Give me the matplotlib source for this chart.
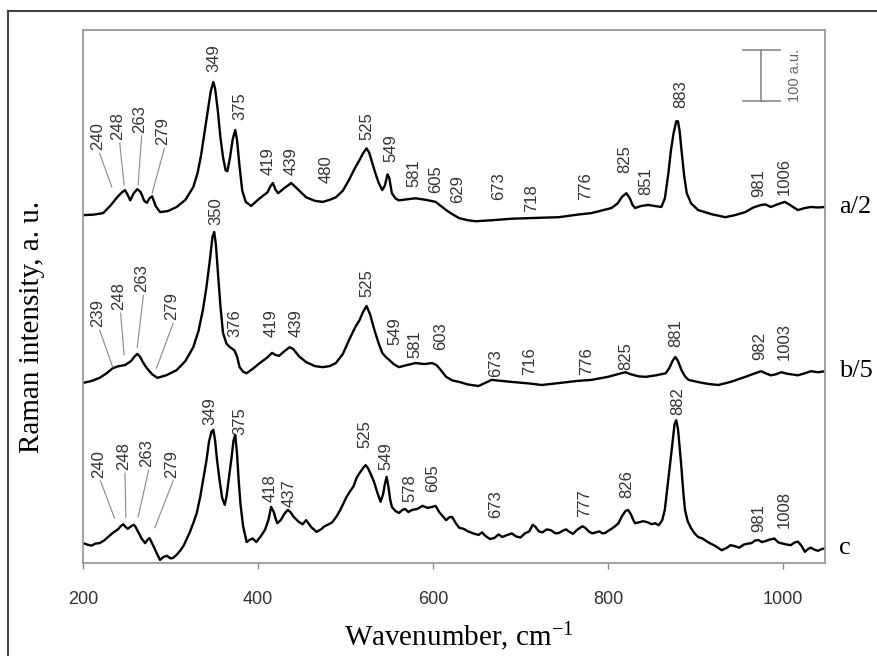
import matplotlib
matplotlib.use("Agg")
import matplotlib.pyplot as plt
from matplotlib.lines import Line2D

plt.rcParams['font.family'] = ['Liberation Sans', 'DejaVu Sans']
plt.rcParams['mathtext.fontset'] = 'custom'
plt.rcParams['mathtext.rm'] = 'Liberation Serif'
plt.rcParams['mathtext.default'] = 'regular'

# spectra: (wavenumber cm-1, intensity a.u. incl. offset)
spec_a = [(200, 682), (212, 683), (223, 686), (231, 700), (239, 717), (244, 726),
          (248, 731), (251, 722), (254, 711), (258, 725), (262, 733), (266, 727),
          (270, 710), (273, 706), (276, 715), (279, 719), (283, 700), (288, 688),
          (297, 690), (307, 698), (317, 712), (326, 737), (331, 765), (335, 800),
          (339, 845), (343, 890), (346, 925), (349, 943), (351, 930), (354, 888),
          (357, 835), (360, 796), (363, 770), (365, 768), (368, 795), (371, 830),
          (374, 849), (376, 830), (379, 776), (382, 730), (386, 708), (392, 700),
          (402, 715), (411, 727), (414, 738), (417, 745), (420, 732), (423, 725),
          (430, 735), (438, 745), (446, 732), (455, 717), (465, 710), (474, 708),
          (482, 712), (489, 717), (497, 730), (504, 751), (511, 775), (516, 790),
          (520, 803), (524, 813), (527, 805), (530, 788), (534, 765), (538, 745),
          (542, 731), (545, 740), (548, 762), (550, 755), (553, 725), (557, 715),
          (561, 711), (570, 713), (580, 715), (592, 712), (603, 708), (609, 700),
          (615, 692), (622, 684), (630, 676), (640, 672), (649, 670), (667, 672),
          (690, 675), (706, 676), (725, 677), (744, 678), (765, 683), (781, 686),
          (795, 692), (804, 696), (811, 705), (816, 718), (821, 725), (825, 715),
          (828, 702), (831, 696), (838, 700), (846, 702), (853, 700), (861, 698),
          (865, 715), (869, 764), (872, 810), (875, 843), (878, 866), (880, 866),
          (882, 845), (884, 809), (887, 760), (890, 725), (895, 705), (903, 692),
          (918, 684), (934, 678), (945, 682), (957, 688), (966, 697), (975, 702),
          (980, 703), (986, 698), (995, 704), (1002, 708), (1008, 702), (1017, 692),
          (1025, 696), (1032, 698), (1040, 697), (1048, 698)]

spec_b = [(200, 353), (210, 357), (219, 363), (227, 372), (234, 382), (241, 386),
          (248, 388), (255, 396), (259, 405), (262, 410), (265, 405), (269, 392),
          (273, 382), (279, 370), (285, 363), (295, 368), (307, 378), (317, 396),
          (326, 423), (332, 455), (337, 496), (341, 540), (345, 594), (348, 640),
          (350, 649), (352, 622), (354, 574), (357, 505), (360, 451), (364, 430),
          (368, 423), (373, 417), (376, 405), (379, 384), (383, 375), (387, 372),
          (395, 382), (402, 392), (410, 402), (416, 412), (420, 408), (424, 406),
          (430, 415), (436, 423), (440, 420), (447, 405), (455, 394), (465, 386),
          (474, 384), (482, 386), (489, 392), (497, 410), (504, 437), (511, 462),
          (516, 476), (520, 492), (524, 504), (528, 488), (533, 457), (538, 430),
          (542, 412), (546, 404), (550, 398), (555, 390), (561, 384), (570, 388),
          (580, 392), (590, 390), (599, 392), (604, 388), (609, 378), (615, 365),
          (622, 358), (630, 355), (640, 350), (652, 347), (667, 359), (690, 355),
          (710, 352), (724, 349), (745, 353), (765, 357), (781, 359), (800, 365),
          (815, 372), (820, 374), (826, 370), (835, 366), (843, 365), (855, 368),
          (866, 372), (870, 382), (874, 397), (877, 404), (880, 396), (884, 378),
          (888, 366), (892, 359), (905, 354), (915, 351), (926, 349), (940, 355),
          (957, 365), (968, 372), (975, 376), (980, 372), (986, 368), (992, 370),
          (998, 374), (1005, 371), (1017, 368), (1025, 372), (1032, 376), (1040, 374),
          (1048, 376)]

spec_c = [(200, 39), (205, 36), (210, 34), (214, 38), (219, 39), (224, 44), (228, 50),
          (234, 59), (240, 66), (243, 72), (246, 76), (249, 70), (251, 67), (255, 72),
          (258, 75), (260, 71), (264, 58), (267, 48), (271, 39), (274, 46), (276, 49),
          (280, 35), (284, 20), (288, 6), (292, 12), (296, 14), (300, 9), (303, 10),
          (307, 16), (311, 24), (315, 34), (318, 45), (322, 60), (326, 78), (330, 98),
          (334, 130), (338, 170), (341, 200), (344, 238), (347, 258), (349, 261),
          (351, 240), (353, 205), (356, 163), (359, 128), (362, 114), (364, 130),
          (367, 170), (370, 210), (372, 240), (374, 251), (376, 215), (378, 160),
          (380, 115), (383, 72), (387, 41), (390, 45), (394, 48), (398, 41), (403, 52),
          (408, 65), (412, 85), (415, 110), (418, 100), (420, 88), (422, 78), (426, 84),
          (430, 96), (434, 104), (437, 100), (441, 90), (447, 80), (451, 76), (455, 84),
          (461, 70), (467, 61), (472, 66), (476, 72), (481, 76), (485, 80), (490, 92),
          (494, 104), (498, 118), (501, 129), (505, 140), (509, 150), (513, 168),
          (516, 176), (520, 186), (523, 192), (526, 185), (530, 170), (533, 157),
          (536, 140), (540, 120), (543, 135), (545, 155), (547, 169), (549, 150),
          (551, 125), (553, 110), (557, 102), (561, 98), (565, 104), (568, 106),
          (572, 100), (576, 104), (582, 106), (588, 112), (594, 108), (599, 110),
          (603, 112), (607, 100), (611, 92), (615, 84), (619, 90), (622, 90), (626, 78),
          (630, 69), (635, 67), (640, 62), (646, 58), (652, 55), (656, 60), (660, 53),
          (665, 47), (670, 49), (675, 56), (679, 51), (685, 55), (690, 58), (695, 52),
          (700, 50), (705, 58), (710, 62), (714, 75), (717, 71), (721, 62), (725, 60),
          (730, 66), (735, 64), (740, 58), (744, 59), (748, 63), (752, 66), (756, 61),
          (760, 57), (764, 64), (768, 69), (771, 72), (774, 69), (778, 62), (782, 58),
          (786, 60), (790, 62), (794, 58), (797, 59), (801, 64), (804, 67), (808, 72),
          (812, 78), (816, 92), (820, 102), (823, 104), (826, 96), (829, 84), (831, 78),
          (836, 80), (840, 82), (845, 80), (850, 76), (854, 78), (858, 74), (862, 84),
          (865, 105), (868, 150), (871, 195), (874, 240), (876, 272), (878, 280),
          (880, 262), (882, 225), (884, 185), (886, 140), (888, 104), (891, 82),
          (895, 68), (899, 58), (903, 51), (908, 48), (915, 40), (922, 34), (930, 25),
          (936, 30), (940, 35), (945, 33), (950, 30), (955, 36), (960, 38), (964, 39),
          (968, 44), (972, 45), (976, 41), (980, 43), (985, 46), (990, 48), (995, 40),
          (1000, 38), (1005, 36), (1009, 35), (1013, 40), (1017, 42), (1021, 34),
          (1025, 22), (1029, 28), (1032, 30), (1036, 26), (1040, 24), (1044, 27),
          (1048, 29)]

curve_names = ['a/2', 'b/5', 'c']

# peak labels
peaks_a = ['240', '248', '263', '279', '349', '375', '419', '439', '480', '525',
           '549', '581', '605', '629', '673', '718', '776', '825', '851', '883',
           '981', '1006']
peaks_b = ['239', '248', '263', '279', '350', '376', '419', '439', '525', '549',
           '581', '603', '673', '716', '776', '825', '881', '982', '1003']
peaks_c = ['240', '248', '263', '279', '349', '375', '418', '437', '525', '549',
           '578', '605', '673', '777', '826', '882', '981', '1008']

# label placement (x, bottom y) in data units
lab_a = [(217, 809), (240, 829), (265, 843), (291, 819), (349, 962), (379, 868),
         (412, 760), (438, 760), (478, 745), (524, 829), (552, 786), (578, 737),
         (603, 725), (628, 706), (675, 711), (713, 688), (774, 711), (819, 764),
         (843, 721), (883, 892), (972, 717), (1001, 721)]
lab_b = [(217, 463), (241, 496), (267, 531), (301, 476), (352, 662), (374, 443),
         (415, 443), (444, 443), (524, 521), (557, 427), (579, 402), (609, 417),
         (672, 365), (711, 368), (776, 368), (820, 378), (878, 423), (973, 398),
         (1001, 398)]
lab_c = [(218, 167), (246, 182), (273, 188), (301, 167), (345, 270), (379, 251),
         (414, 120), (436, 110), (522, 225), (546, 182), (574, 120), (600, 139),
         (672, 88), (773, 90), (822, 127), (880, 290), (972, 61), (1001, 69)]
# leader line ends for the first four labels of each curve
lead_a = [(233, 737), (247, 741), (263, 741), (279, 725)]
lead_b = [(234, 384), (247, 408), (262, 423), (284, 382)]
lead_c = [(236, 88), (249, 90), (263, 90), (282, 69)]

fig = plt.figure(figsize=(8.78, 6.56), dpi=100)
ax = fig.add_axes([83 / 878, 1 - 563 / 656, 742 / 878, 533 / 656])

for spec in [spec_a, spec_b, spec_c]:
    wn, inten = zip(*spec)
    ax.plot(wn, inten, color='black', lw=1.7, solid_joinstyle='round')

for peaks, labs, leads in [(peaks_a, lab_a, lead_a), (peaks_b, lab_b, lead_b),
                           (peaks_c, lab_c, lead_c)]:
    for i, (txt, (x, y)) in enumerate(zip(peaks, labs)):
        ax.text(x, y, txt, rotation=90, ha='center', va='bottom',
                fontsize=12, color='#333333')
        if i < len(leads):
            ax.plot([x + 2, leads[i][0]], [y - 6, leads[i][1]],
                    color='#888888', lw=0.8)

# scale bar 100 a.u.
ax.plot([975, 975], [905, 1005], color='#888888', lw=1.2)
ax.plot([954, 997], [905, 905], color='#888888', lw=1.2)
ax.plot([954, 997], [1005, 1005], color='#888888', lw=1.2)
ax.text(1014, 955, '100 a.u.', rotation=90, ha='center', va='center',
        fontsize=10.5, color='#666666')

for name, spec in zip(curve_names, [spec_a, spec_b, spec_c]):
    ax.annotate(name, xy=(1, spec[-1][1]), xycoords=('axes fraction', 'data'),
                xytext=(14, 0), textcoords='offset pixels', ha='left', va='center',
                fontsize=19, family='Liberation Serif', annotation_clip=False)

ax.set_xlim(200, 1048)
ax.set_ylim(0, 1045)
ax.set_yticks([])
ax.set_xticks([200, 400, 600, 800, 1000])
ax.tick_params(axis='x', direction='out', length=4, width=1, color='#888888',
               pad=16, labelsize=13, labelcolor='#333333')
for s in ax.spines.values():
    s.set_color('#999999')
    s.set_linewidth(1.3)

fig.text(459 / 878, 1 - 637 / 656, 'Wavenumber, cm$^{-1}$', ha='center', va='center',
         fontsize=21, family='Liberation Serif')
fig.text(32 / 878, 1 - 327 / 656, 'Raman intensity, a. u.', rotation=90,
         ha='center', va='center', fontsize=21, family='Liberation Serif')

# outer frame (left and top edges)
fig.add_artist(Line2D([8 / 878, 8 / 878], [0, 1 - 11 / 656], color='#444444', lw=1.5,
                      transform=fig.transFigure))
fig.add_artist(Line2D([8 / 878, 1], [1 - 11 / 656, 1 - 11 / 656], color='#444444',
                      lw=1.5, transform=fig.transFigure))

fig.savefig('out.png', dpi=100)
